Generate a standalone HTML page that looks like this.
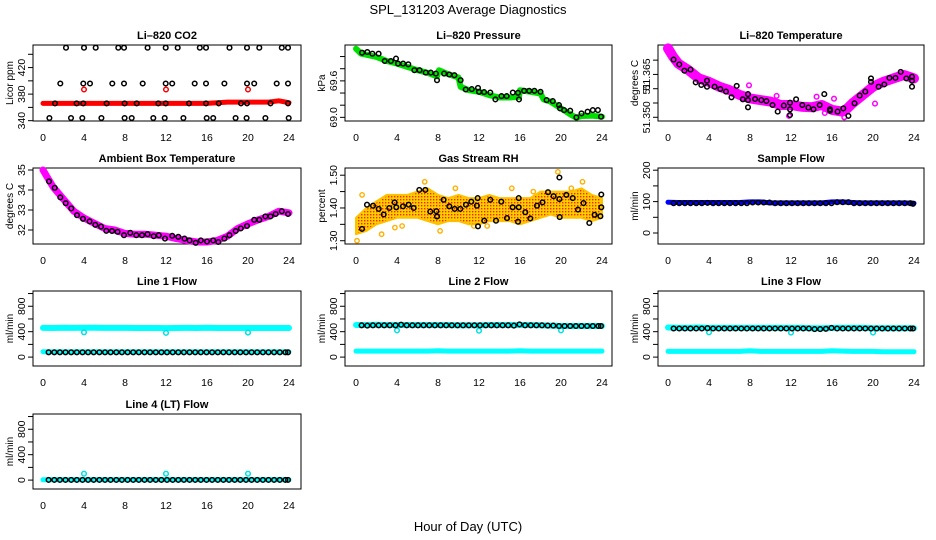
<!DOCTYPE html>
<html><head><meta charset="utf-8"><style>
html,body{margin:0;padding:0;background:#fff;}
svg{display:block;font-family:"Liberation Sans",Arial,sans-serif;}
</style></head><body>
<svg id="chart" width="936" height="540" viewBox="0 0 936 540">
<defs>
<pattern id="rhpat" width="3" height="3" patternUnits="userSpaceOnUse">
<rect width="3" height="3" fill="#ffd000"/><rect x="1" y="1" width="1.4" height="1.4" fill="#ff2000"/>
</pattern>
</defs>
<text x="468" y="14" text-anchor="middle" font-size="13">SPL_131203  Average Diagnostics</text>
<text x="468" y="531" text-anchor="middle" font-size="13">Hour of Day (UTC)</text>
<g id="plots"></g>
</svg>
<script>
// ---------- shared time arrays ----------
const bandHours = [0,1,2,3,4,5,6,7,8,9,10,11,12,13,14,15,16,17,18,19,20,21,22,23,24];
const avgHours = [0.55,1.1,1.65,2.2,2.75,3.3,3.85,4.4,4.95,5.5,6.05,6.6,7.15,7.7,8.25,8.8,9.35,9.9,10.45,11.0,11.55,12.1,12.65,13.2,13.75,14.3,14.85,15.4,15.95,16.5,17.05,17.6,18.15,18.7,19.25,19.8,20.35,20.9,21.45,22.0,22.55,23.1,23.65,23.9];
const xTicks = [0,4,8,12,16,20,24];
const spikeHours = [4,12,20];

// ---------- CO2 ----------
const co2BandHours = [0,2,4,6,8,10,12,14,16,17,18,19,20,21,22,23,24];
const co2Band = [366,366,366,366,366,366,366,366,366,367,368,368,368,368,368,370,367];
const co2Hours450 = [2.24,4.0,5.14,7.35,7.9,10.2,11.97,13.14,15.3,15.9,18.2,19.9,21.1,23.3,23.9];
const co2Hours396 = [1.69,3.93,4.59,6.76,7.9,9.73,11.97,12.6,14.8,15.9,17.7,19.9,20.6,22.8,23.9];
const co2Hours366 = [1.17,3.28,3.93,6.2,7.96,9.14,11.25,11.97,14.24,15.9,17.14,19.32,19.9,22.2,23.9];
const co2Hours344 = [0.62,2.73,3.83,5.7,7.96,8.65,10.76,11.87,13.7,15.97,16.6,18.79,19.86,21.7,23.97];
const co2Levels = [450,396,366,344];
const co2Spikes = [387,387,387];

// ---------- Pressure ----------
const presBandHours = [0,0.5,1,2,3,4,5,6,7,7.9,8.1,9,10,10.2,11,12,13,14,15,15.9,16,17,18,18.3,19,20,21,21.5,22,23,24];
const presBand = [70.129,70.047,70.031,69.993,69.927,69.884,69.829,69.775,69.731,69.676,69.775,69.709,69.655,69.502,69.447,69.42,69.365,69.327,69.327,69.338,69.447,69.42,69.393,69.295,69.256,69.147,69.038,68.995,69.022,69.027,69.011];
const presAvgHours = [0.6,1.1,1.6,2.2,2.8,3.4,3.9,4.1,4.6,5.1,5.7,6.2,6.8,7.3,7.8,7.9,8.6,9.1,9.6,10.2,10.7,11.3,11.9,12.0,12.5,13.1,13.6,14.2,14.7,15.3,15.8,15.9,16.4,16.9,17.4,18.0,18.6,19.2,19.8,19.9,20.3,20.9,21.5,22.0,22.6,23.1,23.6,23.9];
const presAvg = [70.064,70.075,70.047,70.047,69.927,69.927,69.966,69.884,69.884,69.873,69.775,69.775,69.736,69.736,69.72,69.611,69.72,69.704,69.693,69.611,69.458,69.464,69.485,69.42,69.415,69.409,69.295,69.349,69.349,69.409,69.404,69.295,69.436,69.436,69.436,69.42,69.284,69.267,69.202,69.147,69.12,69.109,69.0,69.065,69.093,69.12,69.12,69.011];

// ---------- Li-820 temperature ----------
const ltBandHours = [0,0.5,1,2,3,4,5,6,7,8,9,10,11,12,13,14,15,16,17,17.5,18,19,20,21,22,23,24];
const ltBand = [51.3741,51.3712,51.3688,51.3665,51.3636,51.3624,51.3607,51.3595,51.3578,51.3566,51.356,51.3555,51.3543,51.3543,51.3537,51.3535,51.3543,51.3526,51.352,51.3531,51.3549,51.3578,51.3607,51.3624,51.3636,51.3648,51.3636];
const ltAvgHours = [0.55,1.1,1.6,2.2,2.7,3.25,3.8,3.8,4.55,5.1,5.66,6.2,6.7,7.3,7.8,7.8,7.8,8.5,9.1,9.6,10.2,10.7,11.3,11.9,11.9,11.9,12.5,13.1,13.7,14.2,14.8,15.25,15.8,15.8,16.55,17.1,17.6,18.2,18.7,19.25,19.8,19.8,20.55,21.1,21.6,22.2,22.7,23.25,23.8,23.8,23.8];
const ltAvg = [51.3702,51.3685,51.3663,51.3667,51.3622,51.3613,51.3628,51.3607,51.3607,51.3599,51.359,51.357,51.361,51.3563,51.3581,51.356,51.3535,51.3564,51.356,51.3557,51.3543,51.352,51.3541,51.3551,51.3528,51.3508,51.3563,51.3543,51.3534,51.3528,51.3543,51.3581,51.3528,51.3523,51.352,51.3531,51.3505,51.3549,51.3576,51.359,51.3636,51.3624,51.3607,51.3615,51.3638,51.3638,51.3659,51.3636,51.3642,51.3607,51.3628];
const ltOutlierHours = [7.9,10.6,11.8,14.5,15.3,16.2,17.2,20.2];
const ltOutliers = [51.3612,51.3575,51.3505,51.3572,51.3515,51.3565,51.3500,51.3548];

// ---------- Ambient box temperature ----------
const abBandHours = [0,0.5,1,2,3,4,5,6,7,8,9,10,11,12,13,14,15,16,17,18,19,20,21,22,23,24];
const abBand = [35,34.57,34.14,33.54,32.94,32.6,32.34,32.08,32.0,31.83,31.79,31.79,31.74,31.69,31.57,31.48,31.4,31.4,31.48,31.69,32.08,32.31,32.51,32.68,32.94,32.86];
const abAvgHours = [0.59,1.14,1.69,2.21,2.76,3.32,3.9,4.55,5.1,5.66,6.18,6.73,7.28,7.9,8.52,9.1,9.66,10.2,10.8,11.3,11.9,12.6,13.2,13.8,14.3,14.9,15.4,16.0,16.6,17.1,17.7,18.2,18.8,19.3,19.9,20.6,21.1,21.7,22.2,22.7,23.3,23.9];
const abAvg = [34.43,34.11,33.63,33.34,33.08,32.74,32.56,32.43,32.26,32.17,31.96,31.95,31.91,31.74,31.86,31.74,31.74,31.79,31.69,31.74,31.57,31.71,31.66,31.57,31.48,31.36,31.48,31.43,31.48,31.4,31.57,31.74,31.95,32.08,32.2,32.51,32.51,32.68,32.68,32.8,32.94,32.8];

// ---------- Gas stream RH ----------
const rhUpper = [1.37,1.40,1.42,1.44,1.44,1.44,1.45,1.46,1.44,1.43,1.44,1.43,1.43,1.44,1.43,1.43,1.43,1.43,1.45,1.45,1.45,1.45,1.46,1.44,1.43];
const rhLower = [1.32,1.33,1.35,1.36,1.37,1.37,1.37,1.36,1.35,1.36,1.36,1.35,1.35,1.36,1.36,1.36,1.35,1.36,1.37,1.38,1.37,1.37,1.37,1.36,1.37];
const rhAvgHours = [0.59,1.07,1.66,2.21,2.7,3.25,3.77,3.93,4.59,5.14,5.63,6.18,6.76,7.25,7.84,7.9,8.55,9.1,9.63,10.18,10.73,11.25,11.8,11.87,11.9,12.52,13.1,13.66,14.18,14.73,15.28,15.87,15.8,15.87,16.52,17.0,17.66,18.2,18.73,19.28,19.84,19.87,19.84,20.52,21.14,21.66,22.2,22.76,23.28,23.84,23.93,23.93];
const rhAvg = [1.336,1.41,1.407,1.397,1.38,1.40,1.417,1.402,1.405,1.41,1.40,1.455,1.455,1.389,1.39,1.374,1.425,1.405,1.397,1.397,1.41,1.419,1.407,1.43,1.344,1.361,1.425,1.361,1.419,1.369,1.402,1.43,1.358,1.402,1.387,1.368,1.407,1.417,1.448,1.436,1.427,1.372,1.493,1.44,1.43,1.395,1.415,1.354,1.379,1.375,1.441,1.402];
const rhOutlierHours = [0.1,6.7,19.7,22.1,2.5,8.2,4.5,9.7,12.8,15.2,0.6,3.8,11.5,17.3,21.0];
const rhOutliers = [1.30,1.48,1.51,1.48,1.32,1.33,1.345,1.46,1.345,1.46,1.44,1.34,1.345,1.45,1.46];

// ---------- Sample flow ----------
const sfBand = [98,97,97,97,97,97,97,97,99,99,96,96,96,96,96,96,99,99,97,96,96,96,96,96,95];
const sfAvg = [95,95,95,95,95,95,96,95,95,95,95,95,95,95,97,97,97,97,95,95,95,95,95,95,95,95,95,95,95,98,98,98,95,95,95,95,95,95,95,95,95,95,95,93];

// ---------- Line flows ----------
const l1Upper = [460,458,462,460,462,462,460,460,460,458,458,458,456,458,460,458,462,458,458,458,458,458,458,458,458];
const l1Lower = [85,82,82,82,82,82,82,82,82,82,82,82,82,82,82,82,82,82,82,82,82,82,82,82,82];
const l1Avg = [75,75,75,75,75,75,75,75,75,75,75,75,75,75,75,75,75,75,75,75,75,75,75,75,75,75,75,75,75,75,75,75,75,75,75,75,75,75,75,75,75,75,75,75];
const l1Spikes = [390,380,385];
const l2Upper = [505,505,510,505,505,505,505,505,505,505,500,500,500,505,505,505,505,505,500,495,490,490,490,490,490];
const l2Lower = [95,95,95,95,95,95,95,95,100,95,95,95,95,95,95,95,100,95,95,95,95,95,95,95,95];
const l2Avg = [500,495,500,500,500,500,500,510,500,500,500,500,500,500,500,500,500,500,500,500,500,500,500,500,500,500,500,495,515,500,500,500,500,495,495,490,490,490,490,490,490,490,490,490];
const l2Spikes = [420,415,420];
const l3Upper = [465,460,460,465,460,460,460,460,460,460,460,460,460,460,455,455,460,460,460,460,455,455,455,455,455];
const l3Lower = [90,90,90,90,90,90,90,90,100,90,90,90,90,90,90,90,100,95,90,90,90,85,85,85,85];
const l3Avg = [450,450,450,450,450,450,455,450,450,450,450,450,450,450,450,450,450,450,450,450,450,450,450,450,450,440,440,445,460,450,450,450,450,450,450,450,450,450,450,450,450,450,450,450];
const l3Spikes = [390,385,385];
const l4Band = [5,5,5,5,5,5,5,5,5,5,5,5,5,5,5,5,5,5,5,5,5,5,5,5,5];
const l4Avg = [3,3,3,3,3,3,3,3,3,3,3,3,3,3,3,3,3,3,3,3,3,3,3,3,3,3,3,3,3,3,3,3,3,3,3,3,3,3,3,3,3,3,3,3];
const l4Spikes = [100,100,100];
const flowTicks = [0,200,400,600,800,1000];
const flowLabels = ["0","","400","","800",""];

// ---------- drawing ----------
const NS = "http://www.w3.org/2000/svg";
const root = document.getElementById("plots");
const cols = [{x0:43,l:33,r:301},{x0:356,l:345,r:612},{x0:668,l:658,r:924}];
const rows = [{t:45,b:121},{t:168,b:244},{t:291,b:366},{t:414,b:489}];
const PPH = 10.25;

function el(tag, attrs, parent){
  const e = document.createElementNS(NS, tag);
  for (const k in attrs) e.setAttribute(k, attrs[k]);
  parent.appendChild(e);
  return e;
}

function makePanel(name, title, ci, ri, yDom, yTicks, yLabels, ytitle){
  const c = cols[ci], r = rows[ri];
  const g = el("g", {}, root);
  
  
  const xs = h => c.x0 + h * PPH;
  const ys = v => r.b - (v - yDom[0]) / (yDom[1] - yDom[0]) * (r.b - r.t);
  const t = el("text", {x:(c.l+c.r)/2, y:r.t-6, "text-anchor":"middle", "font-size":"11", "font-weight":"bold"}, g);
  t.textContent = title;
  
  
  const box = el("rect", {x:c.l, y:r.t, width:c.r-c.l, height:r.b-r.t, fill:"none", stroke:"#000", "stroke-width":"1"}, g);
  
  
  xTicks.forEach(h => {
    const lx = el("text", {x:xs(h), y:r.b+20, "text-anchor":"middle", "font-size":"10.5"}, g);
    lx.textContent = h;
    
    
  });
  yTicks.forEach((v, i) => {
    const y = ys(v);
    const tk = el("line", {x1:c.l-5, x2:c.l, y1:y, y2:y, stroke:"#000"}, g);
    
    
    if (yLabels[i]) {
      const ly = el("text", {transform:`translate(${c.l-8},${y}) rotate(-90)`, "text-anchor":"middle", "font-size":"10.5"}, g);
      ly.textContent = yLabels[i];
      
      
    }
  });
  const yt = el("text", {transform:`translate(${c.l-20},${(r.t+r.b)/2}) rotate(-90)`, "text-anchor":"middle", "font-size":"10"}, g);
  yt.textContent = ytitle;
  
  
  const clip = el("g", {}, g);
  return {g: clip, xs, ys};
}

function band(p, hours, vals, color, w, name){
  const pts = hours.map((h, i) => p.xs(h).toFixed(1) + "," + p.ys(vals[i]).toFixed(1)).join(" ");
  const pl = el("polyline", {points:pts, fill:"none", stroke:color, "stroke-width":w, "stroke-linejoin":"round", "stroke-linecap":"round"}, p.g);
  
  
}
function pts(p, hours, vals, color, name, rad, sw){
  hours.forEach((h, i) => {
    const ci = el("circle", {cx:p.xs(h).toFixed(1), cy:p.ys(vals[i]).toFixed(1), r:rad||2.3, fill:"none", stroke:color, "stroke-width":sw||1.5}, p.g);
    
    
  });
}

// CO2
let p = makePanel("co2", "Li\u2013820 CO2", 0, 0, [339.5,454], [340,360,380,400,420,440], ["340","","380","","420",""], "Licor ppm");
band(p, co2BandHours, co2Band, "#ff0000", 5, "co2-band");
pts(p, co2Hours450, co2Hours450.map(() => co2Levels[0]), "#000", "co2-point");
pts(p, co2Hours396, co2Hours396.map(() => co2Levels[1]), "#000", "co2-point");
pts(p, co2Hours366, co2Hours366.map(() => co2Levels[2]), "#000", "co2-point");
pts(p, co2Hours344, co2Hours344.map(() => co2Levels[3]), "#000", "co2-point");
pts(p, spikeHours, co2Spikes, "#ff0000", "co2-spike");

// Pressure
p = makePanel("pressure", "Li\u2013820 Pressure", 1, 0, [68.94,70.19], [69.0,69.2,69.4,69.6,69.8,70.0], ["69.0","","","69.6","",""], "kPa");
band(p, presBandHours, presBand, "#00e000", 6, "pressure-band");
pts(p, presAvgHours, presAvg, "#000", "pressure-point");

// Li-820 temperature
p = makePanel("li820-temp", "Li\u2013820 Temperature", 2, 0, [51.3487,51.3753], [51.350,51.355,51.360,51.365,51.370], ["51.350","","51","51.365",""], "degrees C");
band(p, ltBandHours, ltBand, "#ff00ff", 10, "li820-temp-band");
pts(p, ltOutlierHours, ltOutliers, "#ff00ff", "li820-temp-outlier");
pts(p, ltAvgHours, ltAvg, "#000", "li820-temp-point");

// Ambient box
p = makePanel("ambient-temp", "Ambient Box Temperature", 0, 1, [31.3,35.1], [32,33,34,35], ["32","33","34","35"], "degrees C");
band(p, abBandHours, abBand, "#ff00ff", 7, "ambient-temp-band");
pts(p, abAvgHours, abAvg, "#000", "ambient-temp-point");

// RH
p = makePanel("rh", "Gas Stream RH", 1, 1, [1.29,1.522], [1.30,1.35,1.40,1.45,1.50], ["1.30","","1.40","","1.50"], "percent");
{
  const up = bandHours.map((h, i) => p.xs(h).toFixed(1) + "," + p.ys(rhUpper[i]).toFixed(1));
  const lo = bandHours.map((h, i) => p.xs(h).toFixed(1) + "," + p.ys(rhLower[i]).toFixed(1)).reverse();
  const poly = el("polygon", {points: up.concat(lo).join(" "), fill:"url(#rhpat)", stroke:"#ffc000", "stroke-width":"2", "stroke-linejoin":"round"}, p.g);
  
  
}
pts(p, rhOutlierHours, rhOutliers, "#ffb000", "rh-outlier", 2.2, 1.4);
pts(p, rhAvgHours, rhAvg, "#000", "rh-point");

// Sample flow
p = makePanel("sample-flow", "Sample Flow", 2, 1, [-35,207], [0,50,100,150,200], ["0","","100","","200"], "ml/min");
band(p, bandHours, sfBand, "#0000ff", 5, "sample-flow-band");
pts(p, avgHours, sfAvg, "#000", "sample-flow-point");

// Line flows
const fDom = [-140,1040];
p = makePanel("line1-flow", "Line 1 Flow", 0, 2, fDom, flowTicks, flowLabels, "ml/min");
band(p, bandHours, l1Upper, "#00ffff", 6, "line1-upper-band");
band(p, bandHours, l1Lower, "#00ffff", 5, "line1-lower-band");
pts(p, spikeHours, l1Spikes, "#00e0e0", "line1-spike");
pts(p, avgHours, l1Avg, "#000", "line1-point");

p = makePanel("line2-flow", "Line 2 Flow", 1, 2, fDom, flowTicks, flowLabels, "ml/min");
band(p, bandHours, l2Upper, "#00ffff", 6, "line2-upper-band");
band(p, bandHours, l2Lower, "#00ffff", 5, "line2-lower-band");
pts(p, spikeHours, l2Spikes, "#00e0e0", "line2-spike");
pts(p, avgHours, l2Avg, "#000", "line2-point");

p = makePanel("line3-flow", "Line 3 Flow", 2, 2, fDom, flowTicks, flowLabels, "ml/min");
band(p, bandHours, l3Upper, "#00ffff", 6, "line3-upper-band");
band(p, bandHours, l3Lower, "#00ffff", 5, "line3-lower-band");
pts(p, spikeHours, l3Spikes, "#00e0e0", "line3-spike");
pts(p, avgHours, l3Avg, "#000", "line3-point");

p = makePanel("line4-flow", "Line 4 (LT) Flow", 0, 3, fDom, flowTicks, flowLabels, "ml/min");
band(p, bandHours, l4Band, "#00ffff", 5, "line4-band");
pts(p, spikeHours, l4Spikes, "#00e0e0", "line4-spike");
pts(p, avgHours, l4Avg, "#000", "line4-point");
</script>
</body></html>
